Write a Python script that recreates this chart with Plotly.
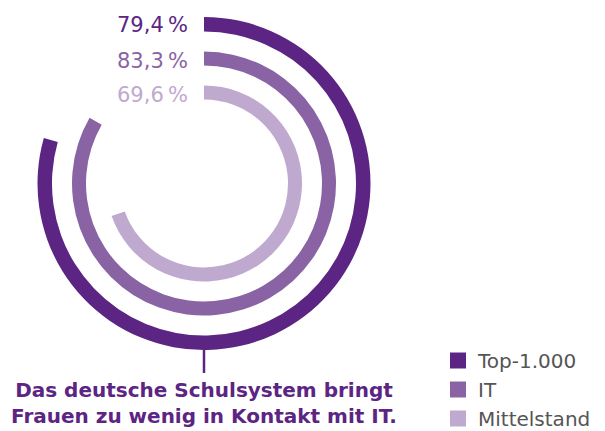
import plotly.graph_objects as go

series = ["Top-1.000", "IT", "Mittelstand"]
values = [79.4, 83.3, 69.6]
colors = ["#5c2483", "#8a63a5", "#bfa9cf"]
ring_base = [152, 118, 84]
ring_thickness = [14.5, 14, 14]
caption = "Das deutsche Schulsystem bringt<br>Frauen zu wenig in Kontakt mit IT."

W, H = 605, 431
cx, cy, R = 204, 183.5, 170
FONT = "DejaVu Sans"

fig = go.Figure()
for name, v, c, b, t in zip(series, values, colors, ring_base, ring_thickness):
    fig.add_trace(go.Barpolar(
        r=[t], base=[b], theta=[v * 3.6 / 2], width=[v * 3.6],
        marker=dict(color=c, line=dict(width=0)), name=name,
        showlegend=False, hoverinfo="skip"))
for name, c in zip(series, colors):
    fig.add_trace(go.Scatterpolar(
        r=[None], theta=[None], mode="markers", name=name,
        marker=dict(symbol="square", size=17, color=c)))

fig.update_layout(
    width=W, height=H,
    margin=dict(l=0, r=0, t=0, b=0, autoexpand=False),
    paper_bgcolor="white", plot_bgcolor="white",
    showlegend=True,
    polar=dict(
        domain=dict(x=[(cx - R) / W, (cx + R) / W], y=[(H - cy - R) / H, (H - cy + R) / H]),
        bgcolor="rgba(0,0,0,0)", bargap=0,
        radialaxis=dict(range=[0, R], visible=False),
        angularaxis=dict(rotation=90, direction="clockwise", visible=False,
                         showgrid=False, showline=False, showticklabels=False, ticks=""),
    ),
    legend=dict(x=438 / W, xanchor="left", y=1 - 341 / H, yanchor="top",
                font=dict(family=FONT, size=20, color="#555555"),
                itemsizing="trace", itemwidth=30, tracegroupgap=0,
                bgcolor="rgba(0,0,0,0)"),
    font=dict(family=FONT),
)

# percentage labels
label_y = [25, 61, 95]
for v, c, y in zip(values, colors, label_y):
    fig.add_annotation(
        xref="paper", yref="paper", x=190 / W, y=1 - y / H,
        xanchor="right", yanchor="middle", showarrow=False,
        text=(f"{v:.1f}".replace(".", ",") + "\u2009%"),
        font=dict(family=FONT, size=21, color=c))

# pointer line and caption
fig.add_shape(type="line", xref="paper", yref="paper",
              x0=cx / W, x1=cx / W, y0=1 - 350 / H, y1=1 - 373 / H,
              line=dict(color=colors[0], width=2.5))
fig.add_annotation(
    xref="paper", yref="paper", x=cx / W, y=1 - 376 / H,
    xanchor="center", yanchor="top", showarrow=False, align="center",
    text="<b>" + caption + "</b>",
    font=dict(family=FONT, size=20, color=colors[0]))

fig.write_html("out.html", config={"displayModeBar": False},
               post_script="document.body.style.margin='0';")
